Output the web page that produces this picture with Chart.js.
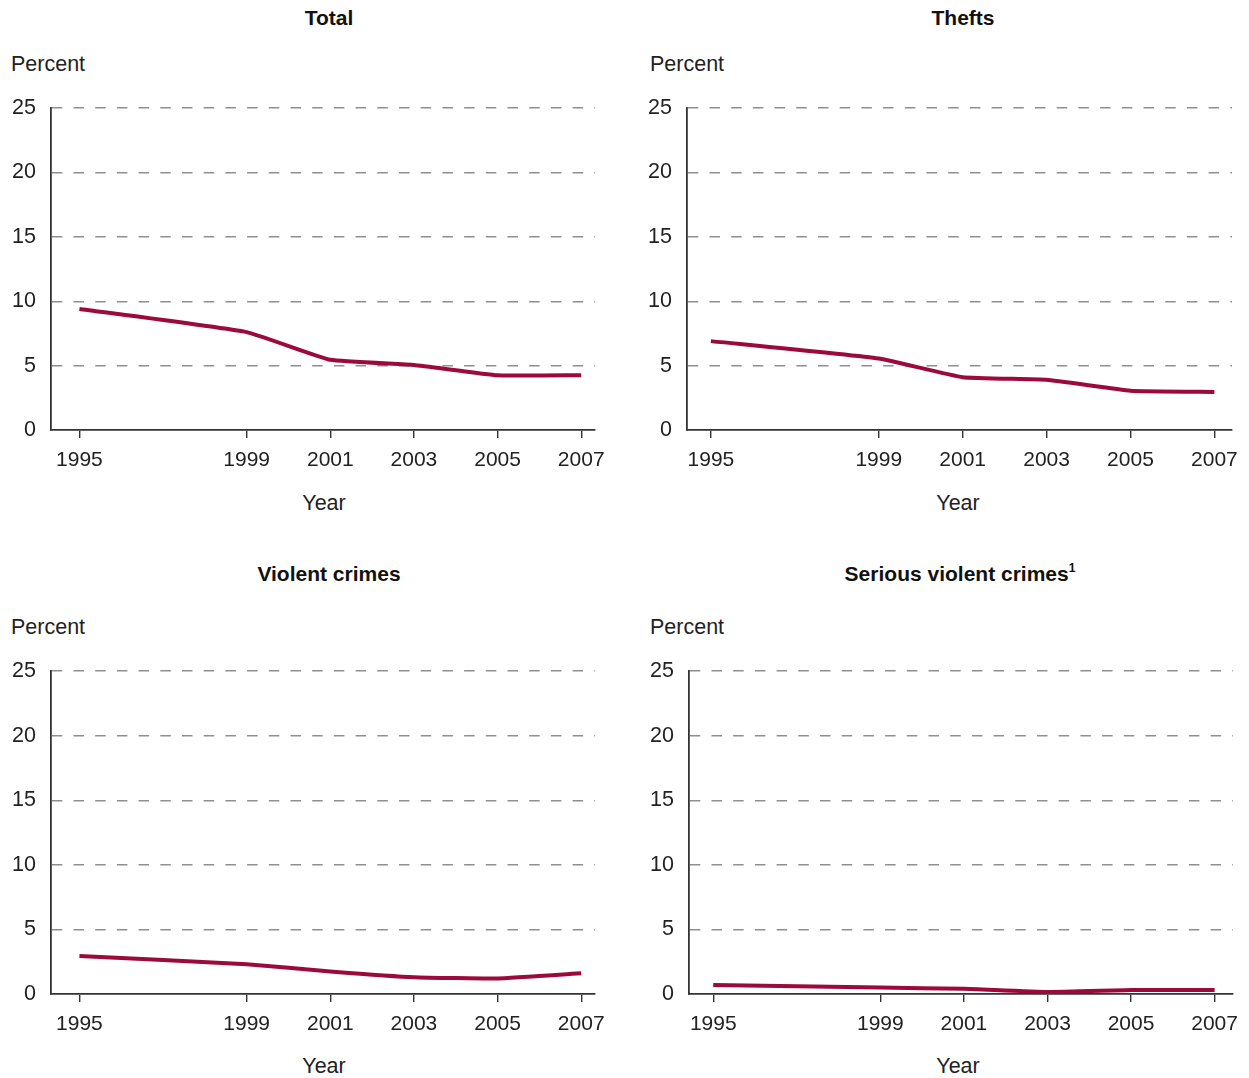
<!DOCTYPE html>
<html>
<head>
<meta charset="utf-8">
<script src="https://cdn.jsdelivr.net/npm/chart.js@4"></script>
<style>
  html, body { margin:0; padding:0; background:#fff; }
  body { width:1249px; height:1078px; position:relative; overflow:hidden; font-family:"Liberation Sans", Arial, sans-serif; color:#222; }
  canvas { position:absolute; }
  .t { position:absolute; transform:translate(-50%,-50%); white-space:nowrap; font-weight:bold; font-size:21px; color:#111; }
  .t sup { font-size:12px; vertical-align:top; position:relative; top:-1px; }
  .p { position:absolute; transform:translateY(-50%); font-size:21.5px; color:#222; }
  .y { position:absolute; transform:translate(-50%,-50%); font-size:21.5px; color:#222; }
</style>
</head>
<body>
<div class="t" style="left:329px;top:18px">Total</div>
<div class="t" style="left:963px;top:18px">Thefts</div>
<div class="t" style="left:329px;top:574px">Violent crimes</div>
<div class="t" style="left:960px;top:574px">Serious violent crimes<sup>1</sup></div>
<div class="p" style="left:11px;top:64px">Percent</div>
<div class="p" style="left:650px;top:64px">Percent</div>
<div class="p" style="left:11px;top:627px">Percent</div>
<div class="p" style="left:650px;top:627px">Percent</div>
<div class="y" style="left:324px;top:503px">Year</div>
<div class="y" style="left:958px;top:503px">Year</div>
<div class="y" style="left:324px;top:1066px">Year</div>
<div class="y" style="left:958px;top:1066px">Year</div>

<canvas id="c1" width="620" height="540" style="left:0;top:0"></canvas>
<canvas id="c2" width="629" height="540" style="left:620px;top:0"></canvas>
<canvas id="c3" width="620" height="538" style="left:0;top:540px"></canvas>
<canvas id="c4" width="629" height="538" style="left:620px;top:540px"></canvas>

<script>
// ---- data ----
const years = [1995, 1999, 2001, 2003, 2005, 2007];
const tickYears = [1995, 1999, 2001, 2003, 2005, 2007];
const totalValues = [9.4, 7.6, 5.45, 5.05, 4.25, 4.25];
const theftValues = [6.9, 5.55, 4.1, 3.9, 3.05, 2.95];
const violentValues = [2.95, 2.3, 1.75, 1.3, 1.2, 1.6];
const seriousValues = [0.7, 0.5, 0.4, 0.15, 0.3, 0.3];
const yTicks = [0, 5, 10, 15, 20, 25];

const LINE = '#9b0a3a';
const AXIS = '#333333';
const FONT = "'Liberation Sans', Arial, sans-serif";

function makeChart(id, values, lay) {
  const pts = years.map((y, i) => ({ x: y, y: values[i] }));
  return new Chart(document.getElementById(id), {
    type: 'line',
    data: { datasets: [{ data: pts, borderColor: LINE, borderWidth: 4, pointRadius: 0, tension: 0.12, borderCapStyle: 'butt', borderJoinStyle: 'round', fill: false }] },
    options: {
      responsive: false,
      animation: false,
      layout: { padding: { left: 0, top: lay.top, right: lay.right, bottom: 0 } },
      plugins: { legend: { display: false }, tooltip: { enabled: false } },
      scales: {
        x: {
          type: 'linear', min: lay.xmin, max: lay.xmax,
          afterFit: s => { s.height = lay.xh; },
          afterBuildTicks: s => { s.ticks = tickYears.map(v => ({ value: v })); },
          grid: { drawOnChartArea: false, drawTicks: true, tickLength: 8, color: AXIS, lineWidth: 1.4 },
          border: { display: true, color: AXIS, width: 1.8 },
          ticks: { padding: 10, color: '#222', font: { family: FONT, size: 21 }, maxRotation: 0, autoSkip: false, callback: v => String(v) }
        },
        y: {
          min: 0, max: 25,
          afterFit: s => { s.width = lay.yw; },
          afterBuildTicks: s => { s.ticks = yTicks.map(v => ({ value: v })); },
          grid: { drawTicks: false, color: c => (c.tick && c.tick.value === 0) ? 'rgba(0,0,0,0)' : '#8f8f8f', lineWidth: 1.4 },
          border: { display: true, color: AXIS, width: 1.8, dash: [10.5, 11.2] },
          ticks: { padding: 15, color: '#222', font: { family: FONT, size: 21.5 } }
        }
      }
    }
  });
}

makeChart('c1', totalValues,   { top: 108, right: 25, xh: 110, yw: 51, xmin: 1994.32, xmax: 2007.33 });
makeChart('c2', theftValues,   { top: 108, right: 17, xh: 110, yw: 67, xmin: 1994.43, xmax: 2007.42 });
makeChart('c3', violentValues, { top: 131, right: 25, xh: 84,  yw: 51, xmin: 1994.32, xmax: 2007.33 });
makeChart('c4', seriousValues, { top: 131, right: 16, xh: 84,  yw: 69, xmin: 1994.42, xmax: 2007.44 });
</script>
</body>
</html>
